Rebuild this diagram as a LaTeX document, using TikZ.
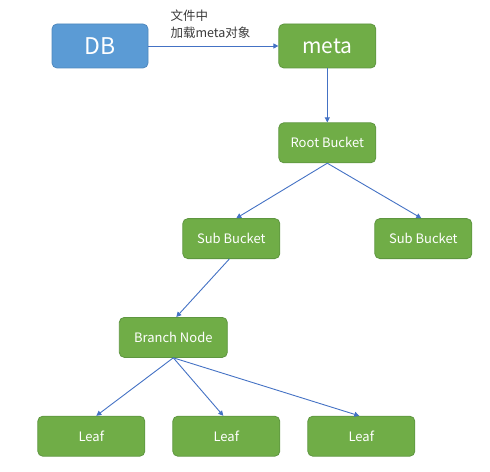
\documentclass[tikz,border=0pt]{standalone}
\usepackage{fontspec}
\setmainfont{Noto Sans CJK SC}
\usetikzlibrary{positioning, calc, arrows.meta}
\definecolor{vert}{HTML}{70AD47}
\definecolor{vertfonce}{HTML}{5E9640}
\definecolor{bleu}{HTML}{5B9BD5}
\definecolor{bleufonce}{HTML}{4F88BE}
\definecolor{trait}{HTML}{4472C4}
\definecolor{gris}{HTML}{3A3A3A}
\tikzset{
    %Define standard arrow tip
    >={Triangle[length=5bp,width=5bp]},
    %Define style for boxes
    boite/.style={
           rectangle,
           rounded corners=5bp,
           fill=vert, draw=vertfonce, line width=0.8bp,
           text=white,
           minimum width=97bp,
           minimum height=40bp,
           font=\fontsize{13bp}{15bp}\selectfont,
           text centered},
    grande/.style={
           boite,
           minimum height=44bp,
           font=\fontsize{21bp}{24bp}\selectfont},
    % Define arrow style
    fleche/.style={
           ->,
           draw=trait,
           line width=0.9bp},
    texte/.style={
           align=left,
           inner sep=0pt,
           text=gris,
           font=\fontsize{12.5bp}{17bp}\selectfont}
}
\begin{document}
\begin{tikzpicture}[x=1bp, y=-1bp, node distance=54bp]
	\useasboundingbox (0,0) rectangle (490,472);
	%
	% noeuds
	%
	\node[grande, fill=bleu, draw=bleufonce, minimum width=96bp,
	      font=\fontsize{23bp}{26bp}\selectfont] (db) at (100,46) {DB};
	\node[grande, right=130bp of db] (meta) {meta};
	\node[texte, anchor=south west] (charge) at ($(db.east)+(22,-7)$) {文件中\\加载meta对象};
	\node[boite, below=54bp of meta] (root) {Root Bucket};
	\node[boite, below=55bp of root, xshift=-96bp] (subg) {Sub Bucket};
	\node[boite, below=55bp of root, xshift=96bp] (subd) {Sub Bucket};
	\node[boite, below=58bp of subg, xshift=-58bp, minimum width=108bp] (branch) {Branch Node};
	\node[boite, below=58bp of branch, xshift=-82bp, minimum width=107bp] (leafa) {Leaf};
	\node[boite, below=58bp of branch, xshift=53bp, minimum width=107bp] (leafb) {Leaf};
	\node[boite, below=58bp of branch, xshift=188bp, minimum width=107bp] (leafc) {Leaf};
	%
	% Liens
	%
	\draw[fleche] (db) -- (meta);
	\draw[fleche] (meta) -- (root);
	\draw[fleche] (root.south) -- ($(subg.north)+(5,0)$);
	\draw[fleche] (root.south) -- ($(subd.north)+(-2,0)$);
	\draw[fleche] ($(subg.south)+(-2,0)$) -- ($(branch.north)+(3,0)$);
	\draw[fleche] (branch.south) -- ($(leafa.north)+(5,0)$);
	\draw[fleche] (branch.south) -- ($(leafb.north)+(-3,0)$);
	\draw[fleche] (branch.south) -- ($(leafc.north)+(-2,0)$);
\end{tikzpicture}
\end{document}
